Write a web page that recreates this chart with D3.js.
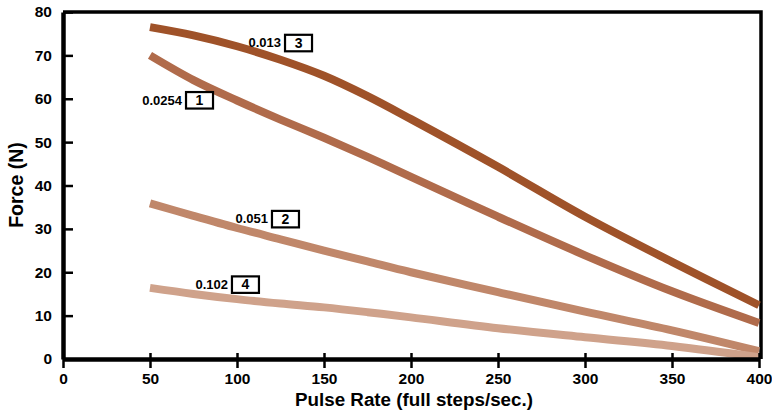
<!DOCTYPE html>
<html><head><meta charset="utf-8">
<script src="https://cdn.jsdelivr.net/npm/d3@7"></script>
<style>body{margin:0;background:#fff;}svg{display:block;font-family:"Liberation Sans",Arial,sans-serif;}</style>
</head><body>
<script>
const pulseRates = [50, 75, 100, 125, 150, 175, 200, 250, 300, 350, 400];
const force013  = [76.5, 74.6, 72.1, 69.0, 65.3, 60.6, 55.3, 44.3, 32.8, 22.4, 12.4];
const force0254 = [70.0, 64.3, 59.6, 55.2, 51.0, 46.6, 42.0, 32.8, 23.9, 15.6, 8.3];
const force051  = [35.9, 33.0, 30.2, 27.6, 25.0, 22.5, 20.0, 15.4, 10.9, 6.6, 1.8];
const force102  = [16.4, 15.0, 13.8, 12.8, 11.9, 10.8, 9.6, 7.1, 5.0, 3.0, 0.4];
const seriesNames = ["0.013", "0.0254", "0.051", "0.102"];
const seriesIds = ["3", "1", "2", "4"];
const xTicks = [0, 50, 100, 150, 200, 250, 300, 350, 400];
const yTicks = [0, 10, 20, 30, 40, 50, 60, 70, 80];
// label box anchor positions in data units (pulse rate, force)
const labelX = [127.6, 70.7, 120.1, 97.1];
const labelY = [72.9, 59.7, 32.3, 17.2];

const colors = ["#9f5229", "#b06b4b", "#c0876a", "#cfa28b"];
const values = [force013, force0254, force051, force102];
const series = seriesNames.map((n, i) => ({name: n, id: seriesIds[i], vals: values[i], color: colors[i], lx: labelX[i], ly: labelY[i]}));

const W = 772, H = 414;
const svg = d3.select("body").append("svg").attr("width", W).attr("height", H);
const x = d3.scaleLinear().domain([0, 400]).range([63, 759]);
const y = d3.scaleLinear().domain([0, 80]).range([359, 12]);

// frame (top & right)
svg.append("path").attr("d", `M${x(0)},${y(80)}H761V${y(0)}`)
  .attr("fill", "none").attr("stroke", "#000").attr("stroke-width", 3.5);

// lines
const line = d3.line().x((d, i) => x(pulseRates[i])).y(d => y(d)).curve(d3.curveCatmullRom.alpha(0.5));
series.forEach(s => {
  svg.append("path").datum(s.vals).attr("d", line)
    .attr("fill", "none").attr("stroke", s.color).attr("stroke-width", 8);
});

// axes
const xAxis = svg.append("g").attr("transform", `translate(0,${y(0)})`)
  .call(d3.axisBottom(x).tickValues(xTicks).tickSize(9).tickSizeOuter(0).tickPadding(5));
xAxis.select(".domain").attr("stroke-width", 4.5);
xAxis.selectAll(".tick line").attr("stroke-width", 2.5).attr("y1", -6);
xAxis.selectAll("text").attr("font-size", 15.5).attr("font-weight", "bold").attr("fill", "#000");

const yAxis = svg.append("g").attr("transform", `translate(${x(0)},0)`)
  .call(d3.axisLeft(y).tickValues(yTicks).tickSize(9).tickSizeOuter(0).tickPadding(2));
yAxis.select(".domain").attr("stroke-width", 4.5);
yAxis.selectAll(".tick line").attr("stroke-width", 2.5).attr("x2", 10);
yAxis.selectAll("text").attr("font-size", 15.5).attr("font-weight", "bold").attr("fill", "#000");

// axis titles
svg.append("text").attr("x", 414).attr("y", 406).attr("text-anchor", "middle")
  .attr("font-size", 18.8).attr("font-weight", "bold").text("Pulse Rate (full steps/sec.)");
svg.append("text").attr("transform", "translate(23,185) rotate(-90)").attr("text-anchor", "middle")
  .attr("font-size", 19.5).attr("font-weight", "bold").text("Force (N)");

// labels
series.forEach(s => {
  const bx = x(s.lx), by = y(s.ly);
  svg.append("text").attr("x", bx - 4).attr("y", by + 4.5).attr("text-anchor", "end")
    .attr("font-size", 13).attr("font-weight", "bold").text(s.name);
  svg.append("rect").attr("x", bx).attr("y", by - 8).attr("width", 27).attr("height", 16.5)
    .attr("fill", "#fff").attr("stroke", "#000").attr("stroke-width", 2.2);
  svg.append("text").attr("x", bx + 13.5).attr("y", by + 5).attr("text-anchor", "middle")
    .attr("font-size", 14).attr("font-weight", "bold").text(s.id);
});
</script>
</body></html>
